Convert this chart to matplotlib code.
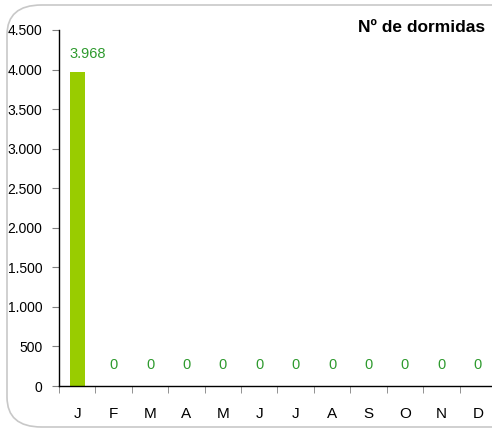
import matplotlib
matplotlib.use("Agg")
import matplotlib.pyplot as plt
from matplotlib.patches import FancyBboxPatch

months = ["J", "F", "M", "A", "M", "J", "J", "A", "S", "O", "N", "D"]
dormidas = [3968, 0, 0, 0, 0, 0, 0, 0, 0, 0, 0, 0]
yticks = [0, 500, 1000, 1500, 2000, 2500, 3000, 3500, 4000, 4500]


def fmt(v):
    return f"{v:,.0f}".replace(",", ".")


plt.rcParams['font.family'] = ['Liberation Sans', 'DejaVu Sans']

fig = plt.figure(figsize=(4.92, 4.28), dpi=100)

# rounded frame
frame = FancyBboxPatch((7 / 492, 1 / 428), 520 / 492, 422 / 428,
                       boxstyle="round,pad=0,rounding_size=0.07",
                       transform=fig.transFigure, fill=False,
                       edgecolor="#c8c8c8", linewidth=1.2, clip_on=False)
fig.patches.append(frame)

ax = fig.add_axes([59 / 492, 42 / 428, 437 / 492, 356 / 428])
ax.patch.set_alpha(0)

x = list(range(len(months)))
ax.bar(x, dormidas, width=0.42, color="#99cc00")

for xi, v in zip(x, dormidas):
    if xi == 0:
        ax.annotate(fmt(v), (xi - 0.22, v), xytext=(0, 8),
                    textcoords="offset points", ha="left", va="bottom",
                    color="#2e9a2e", fontsize=10.5)
    else:
        ax.annotate(fmt(v), (xi, v), xytext=(0, 10),
                    textcoords="offset points", ha="center", va="bottom",
                    color="#2e9a2e", fontsize=10.5)

ax.set_xlim(-0.5, 11.5)
ax.set_ylim(0, 4500)
ax.set_yticks(yticks)
ax.set_yticklabels([fmt(t) for t in yticks], fontsize=10)
ax.set_xticks(x)
ax.set_xticklabels(months, fontsize=11)
ax.set_xticks([i + 0.5 for i in range(-1, 12)], minor=True)
ax.tick_params(axis="x", which="major", length=0, pad=15)
ax.tick_params(axis="x", which="minor", length=5, color="#808080")
ax.tick_params(axis="y", length=5, color="#808080", pad=7)

for s in ["top", "right"]:
    ax.spines[s].set_visible(False)
ax.spines["left"].set_linewidth(1.0)
ax.spines["bottom"].set_linewidth(1.0)

fig.text(485 / 492, 1 - 28 / 428, "Nº de dormidas", ha="right", va="center",
         fontsize=12.5, fontweight="bold")

fig.savefig("out.png", dpi=100)
